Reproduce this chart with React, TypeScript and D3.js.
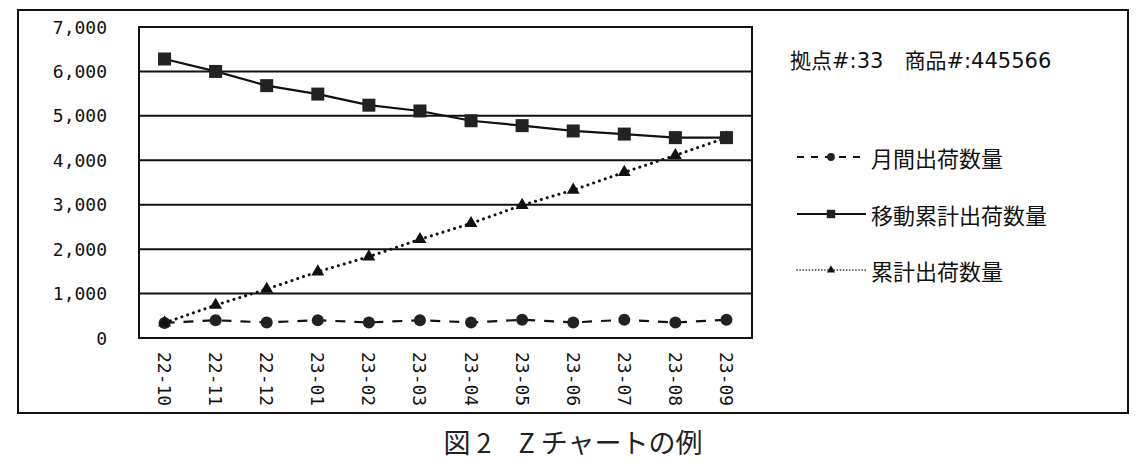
import { useEffect, useRef } from 'react';
import * as d3 from 'd3';

const months = ['22-10', '22-11', '22-12', '23-01', '23-02', '23-03', '23-04', '23-05', '23-06', '23-07', '23-08', '23-09'];
const monthly = [340, 400, 350, 400, 350, 400, 350, 410, 350, 410, 350, 410];
const moving = [6280, 6000, 5680, 5490, 5240, 5110, 4890, 4780, 4660, 4590, 4510, 4510];
const cumulative = [340, 740, 1100, 1490, 1830, 2220, 2580, 2990, 3330, 3730, 4110, 4510];
const yTicks = [0, 1000, 2000, 3000, 4000, 5000, 6000, 7000];

const seriesNames = ['月間出荷数量', '移動累計出荷数量', '累計出荷数量'];
// info label pieces: [text, isLatin]
const infoParts: [string, boolean][] = [['拠点', false], ['#:33', true], ['　商品', false], ['#:445566', true]];
const caption = '図 2　Z チャートの例';

const W = 1146;
const H = 469;

export default function App() {
    const svgRef = useRef<SVGSVGElement>(null);

    useEffect(() => {
        if (!svgRef.current) return;
        const svg = d3.select(svgRef.current);
        svg.selectAll('*').remove();

        const plot = { left: 139, top: 27, right: 752, bottom: 338 };
        const mono = '"DejaVu Sans Mono", monospace';
        const jp = '"Noto Sans CJK JP", sans-serif';

        // outer frame
        svg.append('rect')
            .attr('x', 18).attr('y', 10)
            .attr('width', 1110).attr('height', 403)
            .attr('fill', 'none').attr('stroke', '#111').attr('stroke-width', 2);

        const x = d3.scaleBand<string>().domain(months).range([plot.left, plot.right]);
        const y = d3.scaleLinear().domain([0, 7000]).range([plot.bottom, plot.top]);
        const cx = (m: string) => (x(m) ?? 0) + x.bandwidth() / 2;

        // grid
        yTicks.forEach((t) => {
            svg.append('line')
                .attr('x1', plot.left).attr('x2', plot.right)
                .attr('y1', y(t)).attr('y2', y(t))
                .attr('stroke', '#111').attr('stroke-width', 2);
            svg.append('text')
                .attr('x', 107).attr('y', y(t))
                .attr('text-anchor', 'end')
                .attr('dominant-baseline', 'central')
                .attr('font-family', mono).attr('font-size', 18)
                .attr('fill', '#111')
                .text(d3.format(',')(t));
        });
        svg.append('rect')
            .attr('x', plot.left).attr('y', plot.top)
            .attr('width', plot.right - plot.left).attr('height', plot.bottom - plot.top)
            .attr('fill', 'none').attr('stroke', '#111').attr('stroke-width', 2);

        // x labels
        months.forEach((m) => {
            svg.append('text')
                .attr('transform', `translate(${cx(m)}, 352) rotate(90)`)
                .attr('dominant-baseline', 'central')
                .attr('font-family', mono).attr('font-size', 18)
                .attr('fill', '#111')
                .text(m);
        });

        const line = d3.line<number>().x((_, i) => cx(months[i])).y((d) => y(d));

        const drawMarker = (px: number, py: number, marker: string, s: number) => {
            if (marker === 'circle') {
                svg.append('circle').attr('cx', px).attr('cy', py).attr('r', 6 * s).attr('fill', '#222');
            } else if (marker === 'square') {
                svg.append('rect')
                    .attr('x', px - 6.5 * s).attr('y', py - 6.5 * s)
                    .attr('width', 13 * s).attr('height', 13 * s)
                    .attr('fill', '#222');
            } else {
                svg.append('path')
                    .attr('d', d3.symbol(d3.symbolTriangle, 72 * s * s)())
                    .attr('transform', `translate(${px},${py})`)
                    .attr('fill', '#111');
            }
        };

        const drawSeries = (vals: number[], dash: string, marker: string, cap: string) => {
            svg.append('path')
                .datum(vals)
                .attr('d', line)
                .attr('fill', 'none')
                .attr('stroke', '#111')
                .attr('stroke-width', dash === 'dot' ? 3 : 2.2)
                .attr('stroke-linecap', cap)
                .attr('stroke-dasharray', dash === 'dot' ? '0.1 6' : dash);
            vals.forEach((v, i) => drawMarker(cx(months[i]), y(v), marker, 1));
        };

        drawSeries(monthly, '10 9', 'circle', 'butt');
        drawSeries(cumulative, 'dot', 'triangle', 'round');
        drawSeries(moving, '', 'square', 'butt');

        // info label
        const info = svg.append('text')
            .attr('x', 790).attr('y', 68)
            .attr('font-size', 21).attr('fill', '#111')
            .attr('xml:space', 'preserve')
            .style('white-space', 'pre');
        infoParts.forEach(([t, latin]) => {
            info.append('tspan')
                .attr('font-family', latin ? '"DejaVu Sans", sans-serif' : jp)
                .text(t);
        });

        // legend
        const legend = [
            { name: seriesNames[0], dash: '7 7', marker: 'circle', y: 157, cap: 'butt', w: 2 },
            { name: seriesNames[1], dash: '', marker: 'square', y: 214, cap: 'butt', w: 2 },
            { name: seriesNames[2], dash: '0.1 3', marker: 'triangle', y: 270, cap: 'round', w: 1.6 },
        ];
        legend.forEach((l) => {
            svg.append('line')
                .attr('x1', 797).attr('x2', 866)
                .attr('y1', l.y).attr('y2', l.y)
                .attr('stroke', '#111').attr('stroke-width', l.w)
                .attr('stroke-linecap', l.cap)
                .attr('stroke-dasharray', l.dash);
            drawMarker(831, l.y, l.marker, 0.65);
            svg.append('text')
                .attr('x', 871).attr('y', l.y)
                .attr('dominant-baseline', 'central')
                .attr('font-family', jp).attr('font-size', 22).attr('fill', '#111')
                .text(l.name);
        });

        svg.append('text')
            .attr('x', 573).attr('y', 441)
            .attr('text-anchor', 'middle')
            .attr('dominant-baseline', 'central')
            .attr('font-family', jp).attr('font-size', 27).attr('fill', '#222')
            .attr('xml:space', 'preserve')
            .style('white-space', 'pre')
            .text(caption);
    }, []);

    return (
        <div style={{ position: 'absolute', left: 0, top: 0 }}>
            <svg ref={svgRef} width={W} height={H} style={{ display: 'block', background: '#fff' }}></svg>
        </div>
    );
}
